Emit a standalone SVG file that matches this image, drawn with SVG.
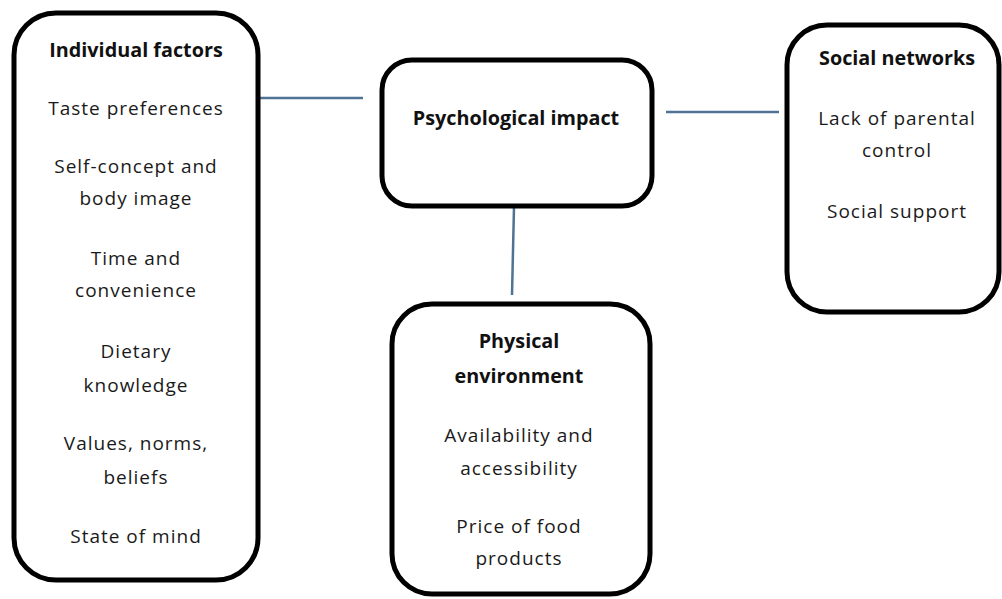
<svg xmlns="http://www.w3.org/2000/svg" width="1002" height="599" viewBox="0 0 1002 599">
<style>
.box{fill:#fff;stroke:#000;stroke-width:5}
.t{font-family:"Open Sans","Liberation Sans",sans-serif;font-size:19px;letter-spacing:1px;fill:#1a1a1a;text-anchor:middle}
.b{font-family:"Open Sans","Liberation Sans",sans-serif;font-size:19.8px;font-weight:bold;fill:#111;text-anchor:middle}
.c{stroke:#4f7394;stroke-width:2.5;fill:none}
</style>
<rect width="1002" height="599" fill="#fff"/>
<g id="connectors">
<line class="c" x1="260" y1="98" x2="363" y2="98"/>
<line class="c" x1="666" y1="112" x2="779" y2="112"/>
<line class="c" x1="514" y1="207" x2="512" y2="295"/>
</g>
<g id="individual">
<rect class="box" x="14" y="13" width="244" height="567" rx="42"/>
<text class="b" x="136" y="57">Individual factors</text>
<text class="t" x="136" y="115">Taste preferences</text>
<text class="t" x="136" y="173">Self-concept and</text>
<text class="t" x="136" y="205">body image</text>
<text class="t" x="136" y="265">Time and</text>
<text class="t" x="136" y="297">convenience</text>
<text class="t" x="136" y="358">Dietary</text>
<text class="t" x="136" y="392">knowledge</text>
<text class="t" x="136" y="450">Values, norms,</text>
<text class="t" x="136" y="484">beliefs</text>
<text class="t" x="136" y="543">State of mind</text>
</g>
<g id="psychological">
<rect class="box" x="382" y="60" width="270" height="146" rx="30"/>
<text class="b" x="516" y="125">Psychological impact</text>
</g>
<g id="physical">
<rect class="box" x="392" y="304" width="258" height="290" rx="40"/>
<text class="b" x="519" y="348">Physical</text>
<text class="b" x="519" y="383">environment</text>
<text class="t" x="519" y="442">Availability and</text>
<text class="t" x="519" y="475">accessibility</text>
<text class="t" x="519" y="533">Price of food</text>
<text class="t" x="519" y="565">products</text>
</g>
<g id="social">
<rect class="box" x="787" y="25" width="212" height="287" rx="40"/>
<text class="b" x="897" y="65">Social networks</text>
<text class="t" x="897" y="125">Lack of parental</text>
<text class="t" x="897" y="157">control</text>
<text class="t" x="897" y="218">Social support</text>
</g>
</svg>
